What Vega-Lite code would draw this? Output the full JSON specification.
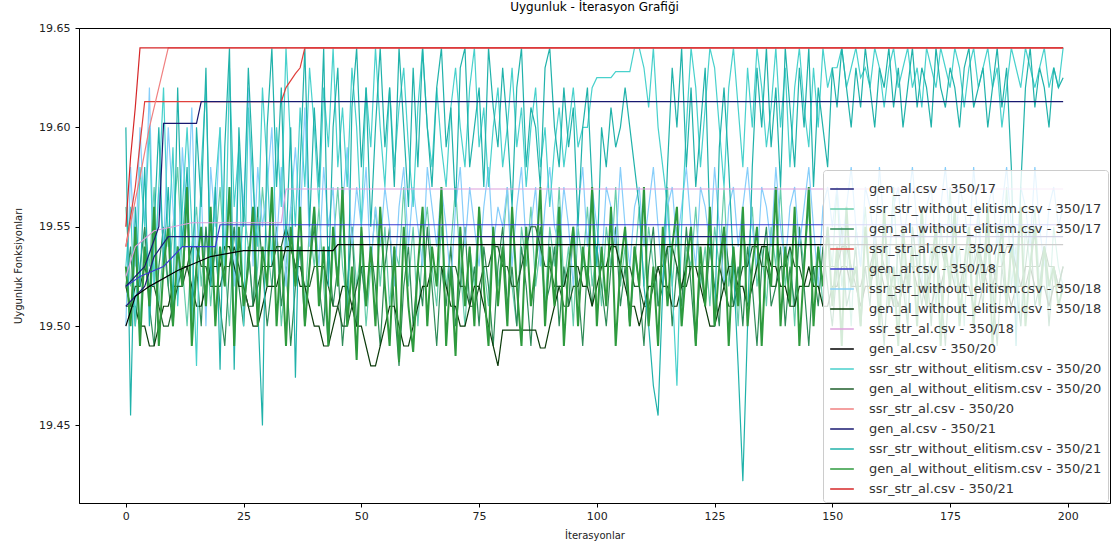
{
"$schema":"https://vega.github.io/schema/vega-lite/v6.json",
"width":1031,"height":475,
"autosize":{"type":"none"},
"padding":{"left":79,"top":28,"right":8,"bottom":44},
"background":"white",
"title":{"text":"Uygunluk - İterasyon Grafiği","font":"DejaVu Sans","fontSize":12,"fontWeight":"normal","color":"#000","offset":8},
"config":{
 "view":{"stroke":"#000","strokeWidth":1},
 "axis":{"labelFont":"DejaVu Sans","labelFontSize":11,"labelColor":"#222","titleFont":"DejaVu Sans","titleFontSize":10,"titleFontWeight":"normal","titleColor":"#222","tickColor":"#000","domainColor":"#000","tickSize":4,"grid":false}
},
"datasets":{
"noisy":[
{"i":0,"b17":19.56,"b18":19.50,"b20":19.53,"b21":19.60,"c17":19.52,"c18":19.52,"c20":19.51,"c21":19.53},
{"i":1,"b17":19.52,"b18":19.58,"b20":19.56,"b21":19.455,"c17":19.54,"c18":19.51,"c20":19.51,"c21":19.50},
{"i":2,"b17":19.54,"b18":19.53,"b20":19.50,"b21":19.56,"c17":19.50,"c18":19.51,"c20":19.52,"c21":19.55},
{"i":3,"b17":19.50,"b18":19.60,"b20":19.58,"b21":19.52,"c17":19.53,"c18":19.50,"c20":19.52,"c21":19.49},
{"i":4,"b17":19.55,"b18":19.55,"b20":19.55,"b21":19.58,"c17":19.55,"c18":19.50,"c20":19.53,"c21":19.54},
{"i":5,"b17":19.53,"b18":19.62,"b20":19.60,"b21":19.50,"c17":19.51,"c18":19.49,"c20":19.52,"c21":19.51},
{"i":6,"b17":19.57,"b18":19.52,"b20":19.52,"b21":19.55,"c17":19.49,"c18":19.49,"c20":19.52,"c21":19.56},
{"i":7,"b17":19.51,"b18":19.57,"b20":19.57,"b21":19.60,"c17":19.53,"c18":19.50,"c20":19.51,"c21":19.49},
{"i":8,"b17":19.54,"b18":19.54,"b20":19.62,"b21":19.53,"c17":19.55,"c18":19.51,"c20":19.50,"c21":19.53},
{"i":9,"b17":19.52,"b18":19.60,"b20":19.54,"b21":19.57,"c17":19.52,"c18":19.51,"c20":19.50,"c21":19.55},
{"i":10,"b17":19.55,"b18":19.56,"b20":19.59,"b21":19.51,"c17":19.50,"c18":19.52,"c20":19.51,"c21":19.50},
{"i":11,"b17":19.58,"b18":19.52,"b20":19.51,"b21":19.62,"c17":19.54,"c18":19.52,"c20":19.52,"c21":19.54},
{"i":12,"b17":19.53,"b18":19.59,"b20":19.56,"b21":19.54,"c17":19.52,"c18":19.53,"c20":19.52,"c21":19.52},
{"i":13,"b17":19.50,"b18":19.55,"b20":19.60,"b21":19.58,"c17":19.56,"c18":19.53,"c20":19.53,"c21":19.57},
{"i":14,"b17":19.54,"b18":19.61,"b20":19.55,"b21":19.50,"c17":19.51,"c18":19.52,"c20":19.54,"c21":19.49},
{"i":15,"b17":19.56,"b18":19.53,"b20":19.48,"b21":19.60,"c17":19.53,"c18":19.51,"c20":19.54,"c21":19.53},
{"i":16,"b17":19.52,"b18":19.57,"b20":19.58,"b21":19.56,"c17":19.50,"c18":19.51,"c20":19.53,"c21":19.55},
{"i":17,"b17":19.55,"b18":19.50,"b20":19.62,"b21":19.63,"c17":19.55,"c18":19.52,"c20":19.53,"c21":19.51},
{"i":18,"b17":19.51,"b18":19.58,"b20":19.53,"b21":19.52,"c17":19.52,"c18":19.53,"c20":19.52,"c21":19.56},
{"i":19,"b17":19.54,"b18":19.55,"b20":19.57,"b21":19.57,"c17":19.54,"c18":19.53,"c20":19.52,"c21":19.50},
{"i":20,"b17":19.57,"b18":19.60,"b20":19.60,"b21":19.478,"c17":19.51,"c18":19.53,"c20":19.52,"c21":19.54},
{"i":21,"b17":19.53,"b18":19.54,"b20":19.52,"b21":19.59,"c17":19.49,"c18":19.54,"c20":19.53,"c21":19.52},
{"i":22,"b17":19.50,"b18":19.57,"b20":19.63,"b21":19.64,"c17":19.53,"c18":19.54,"c20":19.53,"c21":19.57},
{"i":23,"b17":19.55,"b18":19.52,"b20":19.56,"b21":19.478,"c17":19.55,"c18":19.53,"c20":19.54,"c21":19.49},
{"i":24,"b17":19.52,"b18":19.59,"b20":19.59,"b21":19.60,"c17":19.52,"c18":19.52,"c20":19.53,"c21":19.55},
{"i":25,"b17":19.56,"b18":19.56,"b20":19.50,"b21":19.55,"c17":19.50,"c18":19.52,"c20":19.52,"c21":19.51},
{"i":26,"b17":19.54,"b18":19.62,"b20":19.61,"b21":19.63,"c17":19.54,"c18":19.51,"c20":19.51,"c21":19.53},
{"i":27,"b17":19.51,"b18":19.53,"b20":19.57,"b21":19.58,"c17":19.51,"c18":19.50,"c20":19.51,"c21":19.56},
{"i":28,"b17":19.53,"b18":19.58,"b20":19.54,"b21":19.51,"c17":19.56,"c18":19.50,"c20":19.52,"c21":19.50},
{"i":29,"b17":19.57,"b18":19.55,"b20":19.62,"b21":19.45,"c17":19.53,"c18":19.51,"c20":19.53,"c21":19.54},
{"i":30,"b17":19.54,"b18":19.57,"b20":19.58,"b21":19.60,"c17":19.50,"c18":19.52,"c20":19.53,"c21":19.52},
{"i":31,"b17":19.52,"b18":19.60,"b20":19.53,"b21":19.64,"c17":19.52,"c18":19.52,"c20":19.53,"c21":19.57},
{"i":32,"b17":19.55,"b18":19.54,"b20":19.60,"b21":19.57,"c17":19.55,"c18":19.52,"c20":19.54,"c21":19.50},
{"i":33,"b17":19.50,"b18":19.58,"b20":19.56,"b21":19.62,"c17":19.51,"c18":19.53,"c20":19.54,"c21":19.54},
{"i":34,"b17":19.53,"b18":19.52,"b20":19.64,"b21":19.54,"c17":19.53,"c18":19.54,"c20":19.55,"c21":19.49},
{"i":35,"b17":19.56,"b18":19.56,"b20":19.59,"b21":19.60,"c17":19.49,"c18":19.54,"c20":19.54,"c21":19.55},
{"i":36,"b17":19.52,"b18":19.59,"b20":19.55,"b21":19.474,"c17":19.52,"c18":19.53,"c20":19.53,"c21":19.52},
{"i":37,"b17":19.54,"b18":19.55,"b20":19.61,"b21":19.58,"c17":19.54,"c18":19.52,"c20":19.53,"c21":19.56},
{"i":38,"b17":19.51,"b18":19.61,"b20":19.57,"b21":19.64,"c17":19.50,"c18":19.52,"c20":19.52,"c21":19.50},
{"i":39,"b17":19.55,"b18":19.54,"b20":19.63,"b21":19.55,"c17":19.53,"c18":19.51,"c20":19.52,"c21":19.53},
{"i":40,"b17":19.53,"b18":19.56,"b20":19.60,"b21":19.61,"c17":19.55,"c18":19.50,"c20":19.53,"c21":19.56},
{"i":41,"b17":19.56,"b18":19.53,"b20":19.56,"b21":19.57,"c17":19.52,"c18":19.50,"c20":19.53,"c21":19.51},
{"i":42,"b17":19.52,"b18":19.58,"b20":19.62,"b21":19.64,"c17":19.50,"c18":19.49,"c20":19.53,"c21":19.54},
{"i":43,"b17":19.49,"b18":19.55,"b20":19.59,"b21":19.52,"c17":19.54,"c18":19.49,"c20":19.52,"c21":19.49},
{"i":44,"b17":19.54,"b18":19.57,"b20":19.64,"b21":19.60,"c17":19.51,"c18":19.50,"c20":19.51,"c21":19.55},
{"i":45,"b17":19.57,"b18":19.52,"b20":19.58,"b21":19.63,"c17":19.53,"c18":19.51,"c20":19.51,"c21":19.52},
{"i":46,"b17":19.53,"b18":19.56,"b20":19.61,"b21":19.56,"c17":19.49,"c18":19.52,"c20":19.50,"c21":19.57},
{"i":47,"b17":19.51,"b18":19.59,"b20":19.57,"b21":19.50,"c17":19.52,"c18":19.52,"c20":19.50,"c21":19.50},
{"i":48,"b17":19.55,"b18":19.54,"b20":19.63,"b21":19.61,"c17":19.55,"c18":19.51,"c20":19.51,"c21":19.53},
{"i":49,"b17":19.52,"b18":19.57,"b20":19.60,"b21":19.64,"c17":19.50,"c18":19.50,"c20":19.52,"c21":19.483},
{"i":50,"b17":19.54,"b18":19.55,"b20":19.55,"b21":19.58,"c17":19.53,"c18":19.50,"c20":19.53,"c21":19.55},
{"i":51,"b17":19.50,"b18":19.58,"b20":19.62,"b21":19.62,"c17":19.51,"c18":19.49,"c20":19.53,"c21":19.51},
{"i":52,"b17":19.53,"b18":19.53,"b20":19.59,"b21":19.55,"c17":19.54,"c18":19.48,"c20":19.53,"c21":19.54},
{"i":53,"b17":19.56,"b18":19.56,"b20":19.64,"b21":19.60,"c17":19.52,"c18":19.48,"c20":19.53,"c21":19.50},
{"i":54,"b17":19.52,"b18":19.54,"b20":19.60,"b21":19.64,"c17":19.49,"c18":19.49,"c20":19.53,"c21":19.56},
{"i":55,"b17":19.55,"b18":19.57,"b20":19.57,"b21":19.59,"c17":19.53,"c18":19.50,"c20":19.53,"c21":19.52},
{"i":56,"b17":19.51,"b18":19.55,"b20":19.62,"b21":19.62,"c17":19.55,"c18":19.51,"c20":19.53,"c21":19.49},
{"i":57,"b17":19.54,"b18":19.52,"b20":19.58,"b21":19.57,"c17":19.51,"c18":19.51,"c20":19.53,"c21":19.54},
{"i":58,"b17":19.53,"b18":19.56,"b20":19.61,"b21":19.64,"c17":19.48,"c18":19.50,"c20":19.53,"c21":19.482},
{"i":59,"b17":19.57,"b18":19.58,"b20":19.63,"b21":19.60,"c17":19.52,"c18":19.49,"c20":19.53,"c21":19.55},
{"i":60,"b17":19.52,"b18":19.54,"b20":19.59,"b21":19.56,"c17":19.54,"c18":19.49,"c20":19.53,"c21":19.51},
{"i":61,"b17":19.55,"b18":19.57,"b20":19.56,"b21":19.63,"c17":19.50,"c18":19.50,"c20":19.53,"c21":19.487},
{"i":62,"b17":19.50,"b18":19.55,"b20":19.61,"b21":19.58,"c17":19.53,"c18":19.51,"c20":19.53,"c21":19.53},
{"i":63,"b17":19.54,"b18":19.53,"b20":19.64,"b21":19.64,"c17":19.51,"c18":19.52,"c20":19.53,"c21":19.56},
{"i":64,"b17":19.56,"b18":19.58,"b20":19.60,"b21":19.60,"c17":19.55,"c18":19.52,"c20":19.53,"c21":19.50},
{"i":65,"b17":19.53,"b18":19.56,"b20":19.58,"b21":19.57,"c17":19.52,"c18":19.53,"c20":19.53,"c21":19.54},
{"i":66,"b17":19.51,"b18":19.54,"b20":19.62,"b21":19.62,"c17":19.49,"c18":19.53,"c20":19.53,"c21":19.52},
{"i":67,"b17":19.55,"b18":19.57,"b20":19.59,"b21":19.64,"c17":19.53,"c18":19.53,"c20":19.53,"c21":19.57},
{"i":68,"b17":19.52,"b18":19.55,"b20":19.57,"b21":19.59,"c17":19.51,"c18":19.52,"c20":19.53,"c21":19.49},
{"i":69,"b17":19.54,"b18":19.52,"b20":19.61,"b21":19.61,"c17":19.54,"c18":19.51,"c20":19.53,"c21":19.53},
{"i":70,"b17":19.57,"b18":19.56,"b20":19.63,"b21":19.56,"c17":19.50,"c18":19.51,"c20":19.53,"c21":19.485},
{"i":71,"b17":19.53,"b18":19.58,"b20":19.60,"b21":19.63,"c17":19.52,"c18":19.50,"c20":19.52,"c21":19.55},
{"i":72,"b17":19.50,"b18":19.54,"b20":19.58,"b21":19.64,"c17":19.55,"c18":19.50,"c20":19.52,"c21":19.51},
{"i":73,"b17":19.54,"b18":19.57,"b20":19.62,"b21":19.58,"c17":19.51,"c18":19.51,"c20":19.51,"c21":19.54},
{"i":74,"b17":19.52,"b18":19.55,"b20":19.64,"b21":19.60,"c17":19.53,"c18":19.52,"c20":19.51,"c21":19.50},
{"i":75,"b17":19.56,"b18":19.53,"b20":19.59,"b21":19.62,"c17":19.50,"c18":19.52,"c20":19.52,"c21":19.56},
{"i":76,"b17":19.53,"b18":19.56,"b20":19.61,"b21":19.57,"c17":19.54,"c18":19.51,"c20":19.53,"c21":19.52},
{"i":77,"b17":19.51,"b18":19.58,"b20":19.57,"b21":19.64,"c17":19.52,"c18":19.50,"c20":19.53,"c21":19.49},
{"i":78,"b17":19.55,"b18":19.54,"b20":19.60,"b21":19.61,"c17":19.49,"c18":19.49,"c20":19.54,"c21":19.55},
{"i":79,"b17":19.52,"b18":19.56,"b20":19.62,"b21":19.59,"c17":19.53,"c18":19.48,"c20":19.54,"c21":19.51},
{"i":80,"b17":19.54,"b18":19.55,"b20":19.58,"b21":19.63,"c17":19.55,"c18":19.498,"c20":19.53,"c21":19.54},
{"i":81,"b17":19.57,"b18":19.57,"b20":19.60,"b21":19.60,"c17":19.51,"c18":19.498,"c20":19.53,"c21":19.50},
{"i":82,"b17":19.52,"b18":19.53,"b20":19.63,"b21":19.56,"c17":19.53,"c18":19.498,"c20":19.52,"c21":19.56},
{"i":83,"b17":19.50,"b18":19.56,"b20":19.59,"b21":19.62,"c17":19.50,"c18":19.498,"c20":19.52,"c21":19.52},
{"i":84,"b17":19.55,"b18":19.58,"b20":19.61,"b21":19.64,"c17":19.54,"c18":19.498,"c20":19.53,"c21":19.49},
{"i":85,"b17":19.53,"b18":19.54,"b20":19.57,"b21":19.58,"c17":19.52,"c18":19.498,"c20":19.54,"c21":19.55},
{"i":86,"b17":19.56,"b18":19.55,"b20":19.60,"b21":19.61,"c17":19.49,"c18":19.498,"c20":19.55,"c21":19.51},
{"i":87,"b17":19.52,"b18":19.57,"b20":19.62,"b21":19.60,"c17":19.53,"c18":19.498,"c20":19.55,"c21":19.53},
{"i":88,"b17":19.54,"b18":19.53,"b20":19.58,"b21":19.57,"c17":19.55,"c18":19.489,"c20":19.54,"c21":19.57},
{"i":89,"b17":19.51,"b18":19.56,"b20":19.60,"b21":19.63,"c17":19.51,"c18":19.489,"c20":19.53,"c21":19.50},
{"i":90,"b17":19.55,"b18":19.58,"b20":19.56,"b21":19.64,"c17":19.52,"c18":19.50,"c20":19.53,"c21":19.54},
{"i":91,"b17":19.53,"b18":19.55,"b20":19.59,"b21":19.60,"c17":19.54,"c18":19.51,"c20":19.52,"c21":19.51},
{"i":92,"b17":19.57,"b18":19.54,"b20":19.61,"b21":19.58,"c17":19.50,"c18":19.52,"c20":19.52,"c21":19.56},
{"i":93,"b17":19.52,"b18":19.57,"b20":19.58,"b21":19.62,"c17":19.53,"c18":19.52,"c20":19.51,"c21":19.49},
{"i":94,"b17":19.54,"b18":19.55,"b20":19.60,"b21":19.59,"c17":19.51,"c18":19.53,"c20":19.51,"c21":19.53},
{"i":95,"b17":19.50,"b18":19.52,"b20":19.62,"b21":19.61,"c17":19.55,"c18":19.53,"c20":19.52,"c21":19.55},
{"i":96,"b17":19.55,"b18":19.56,"b20":19.59,"b21":19.55,"c17":19.52,"c18":19.53,"c20":19.52,"c21":19.50},
{"i":97,"b17":19.53,"b18":19.58,"b20":19.60,"b21":19.60,"c17":19.49,"c18":19.52,"c20":19.53,"c21":19.54},
{"i":98,"b17":19.56,"b18":19.54,"b20":19.60,"b21":19.62,"c17":19.53,"c18":19.52,"c20":19.53,"c21":19.52},
{"i":99,"b17":19.52,"b18":19.57,"b20":19.62,"b21":19.57,"c17":19.51,"c18":19.51,"c20":19.53,"c21":19.57},
{"i":100,"b17":19.54,"b18":19.55,"b20":19.625,"b21":19.53,"c17":19.54,"c18":19.52,"c20":19.53,"c21":19.50},
{"i":101,"b17":19.51,"b18":19.53,"b20":19.625,"b21":19.60,"c17":19.52,"c18":19.53,"c20":19.53,"c21":19.54},
{"i":102,"b17":19.55,"b18":19.57,"b20":19.625,"b21":19.58,"c17":19.50,"c18":19.53,"c20":19.53,"c21":19.51},
{"i":103,"b17":19.53,"b18":19.56,"b20":19.625,"b21":19.61,"c17":19.53,"c18":19.54,"c20":19.53,"c21":19.56},
{"i":104,"b17":19.57,"b18":19.54,"b20":19.628,"b21":19.59,"c17":19.55,"c18":19.54,"c20":19.53,"c21":19.49},
{"i":105,"b17":19.52,"b18":19.58,"b20":19.628,"b21":19.60,"c17":19.51,"c18":19.53,"c20":19.53,"c21":19.53},
{"i":106,"b17":19.54,"b18":19.55,"b20":19.628,"b21":19.62,"c17":19.53,"c18":19.52,"c20":19.53,"c21":19.55},
{"i":107,"b17":19.50,"b18":19.53,"b20":19.628,"b21":19.60,"c17":19.50,"c18":19.51,"c20":19.53,"c21":19.50},
{"i":108,"b17":19.53,"b18":19.56,"b20":19.64,"b21":19.58,"c17":19.54,"c18":19.51,"c20":19.52,"c21":19.54},
{"i":109,"b17":19.56,"b18":19.57,"b20":19.64,"b21":19.56,"c17":19.52,"c18":19.50,"c20":19.52,"c21":19.52},
{"i":110,"b17":19.52,"b18":19.54,"b20":19.63,"b21":19.52,"c17":19.49,"c18":19.51,"c20":19.51,"c21":19.57},
{"i":111,"b17":19.55,"b18":19.56,"b20":19.61,"b21":19.50,"c17":19.53,"c18":19.52,"c20":19.51,"c21":19.50},
{"i":112,"b17":19.53,"b18":19.58,"b20":19.64,"b21":19.47,"c17":19.55,"c18":19.52,"c20":19.52,"c21":19.53},
{"i":113,"b17":19.51,"b18":19.55,"b20":19.60,"b21":19.455,"c17":19.51,"c18":19.53,"c20":19.53,"c21":19.49},
{"i":114,"b17":19.54,"b18":19.52,"b20":19.58,"b21":19.52,"c17":19.52,"c18":19.52,"c20":19.53,"c21":19.55},
{"i":115,"b17":19.57,"b18":19.56,"b20":19.56,"b21":19.58,"c17":19.54,"c18":19.52,"c20":19.54,"c21":19.51},
{"i":116,"b17":19.52,"b18":19.57,"b20":19.52,"b21":19.63,"c17":19.50,"c18":19.51,"c20":19.54,"c21":19.54},
{"i":117,"b17":19.55,"b18":19.54,"b20":19.47,"b21":19.60,"c17":19.53,"c18":19.51,"c20":19.53,"c21":19.56},
{"i":118,"b17":19.50,"b18":19.56,"b20":19.55,"b21":19.64,"c17":19.51,"c18":19.52,"c20":19.52,"c21":19.50},
{"i":119,"b17":19.54,"b18":19.58,"b20":19.60,"b21":19.58,"c17":19.55,"c18":19.53,"c20":19.52,"c21":19.53},
{"i":120,"b17":19.53,"b18":19.55,"b20":19.64,"b21":19.62,"c17":19.52,"c18":19.53,"c20":19.53,"c21":19.55},
{"i":121,"b17":19.56,"b18":19.53,"b20":19.62,"b21":19.57,"c17":19.49,"c18":19.53,"c20":19.53,"c21":19.49},
{"i":122,"b17":19.52,"b18":19.57,"b20":19.58,"b21":19.60,"c17":19.53,"c18":19.52,"c20":19.53,"c21":19.54},
{"i":123,"b17":19.54,"b18":19.56,"b20":19.61,"b21":19.63,"c17":19.51,"c18":19.51,"c20":19.53,"c21":19.51},
{"i":124,"b17":19.51,"b18":19.54,"b20":19.64,"b21":19.55,"c17":19.54,"c18":19.50,"c20":19.53,"c21":19.56},
{"i":125,"b17":19.55,"b18":19.58,"b20":19.63,"b21":19.50,"c17":19.52,"c18":19.50,"c20":19.53,"c21":19.50},
{"i":126,"b17":19.53,"b18":19.55,"b20":19.60,"b21":19.59,"c17":19.50,"c18":19.51,"c20":19.53,"c21":19.53},
{"i":127,"b17":19.57,"b18":19.52,"b20":19.57,"b21":19.62,"c17":19.55,"c18":19.52,"c20":19.52,"c21":19.55},
{"i":128,"b17":19.52,"b18":19.56,"b20":19.62,"b21":19.58,"c17":19.53,"c18":19.53,"c20":19.51,"c21":19.49},
{"i":129,"b17":19.54,"b18":19.57,"b20":19.64,"b21":19.53,"c17":19.51,"c18":19.53,"c20":19.51,"c21":19.54},
{"i":130,"b17":19.50,"b18":19.54,"b20":19.61,"b21":19.48,"c17":19.53,"c18":19.52,"c20":19.52,"c21":19.51},
{"i":131,"b17":19.55,"b18":19.56,"b20":19.58,"b21":19.422,"c17":19.50,"c18":19.52,"c20":19.53,"c21":19.56},
{"i":132,"b17":19.53,"b18":19.58,"b20":19.63,"b21":19.50,"c17":19.54,"c18":19.51,"c20":19.53,"c21":19.50},
{"i":133,"b17":19.56,"b18":19.55,"b20":19.60,"b21":19.58,"c17":19.52,"c18":19.52,"c20":19.54,"c21":19.53},
{"i":134,"b17":19.52,"b18":19.53,"b20":19.64,"b21":19.63,"c17":19.49,"c18":19.53,"c20":19.54,"c21":19.55},
{"i":135,"b17":19.54,"b18":19.57,"b20":19.62,"b21":19.60,"c17":19.53,"c18":19.54,"c20":19.53,"c21":19.49},
{"i":136,"b17":19.51,"b18":19.56,"b20":19.59,"b21":19.64,"c17":19.55,"c18":19.54,"c20":19.53,"c21":19.54},
{"i":137,"b17":19.55,"b18":19.54,"b20":19.61,"b21":19.59,"c17":19.51,"c18":19.53,"c20":19.52,"c21":19.52},
{"i":138,"b17":19.53,"b18":19.58,"b20":19.64,"b21":19.62,"c17":19.52,"c18":19.53,"c20":19.52,"c21":19.57},
{"i":139,"b17":19.57,"b18":19.55,"b20":19.60,"b21":19.57,"c17":19.54,"c18":19.52,"c20":19.53,"c21":19.50},
{"i":140,"b17":19.52,"b18":19.53,"b20":19.63,"b21":19.64,"c17":19.50,"c18":19.52,"c20":19.53,"c21":19.54},
{"i":141,"b17":19.54,"b18":19.56,"b20":19.58,"b21":19.61,"c17":19.53,"c18":19.51,"c20":19.54,"c21":19.51},
{"i":142,"b17":19.50,"b18":19.57,"b20":19.62,"b21":19.58,"c17":19.51,"c18":19.51,"c20":19.53,"c21":19.56},
{"i":143,"b17":19.55,"b18":19.54,"b20":19.64,"b21":19.63,"c17":19.55,"c18":19.52,"c20":19.53,"c21":19.49},
{"i":144,"b17":19.53,"b18":19.56,"b20":19.61,"b21":19.60,"c17":19.52,"c18":19.52,"c20":19.52,"c21":19.53},
{"i":145,"b17":19.56,"b18":19.58,"b20":19.59,"b21":19.64,"c17":19.49,"c18":19.53,"c20":19.52,"c21":19.57},
{"i":146,"b17":19.52,"b18":19.55,"b20":19.63,"b21":19.57,"c17":19.53,"c18":19.52,"c20":19.53,"c21":19.50},
{"i":147,"b17":19.54,"b18":19.52,"b20":19.60,"b21":19.62,"c17":19.51,"c18":19.52,"c20":19.53,"c21":19.54},
{"i":148,"b17":19.51,"b18":19.56,"b20":19.64,"b21":19.60,"c17":19.54,"c18":19.51,"c20":19.53,"c21":19.52},
{"i":149,"b17":19.55,"b18":19.57,"b20":19.62,"b21":19.58,"c17":19.52,"c18":19.51,"c20":19.53,"c21":19.55},
{"i":150,"b17":19.53,"b18":19.55,"b20":19.63,"b21":19.63,"c17":19.50,"c18":19.52,"c20":19.53,"c21":19.51},
{"i":151,"b17":19.57,"b18":19.57,"b20":19.63,"b21":19.61,"c17":19.53,"c18":19.52,"c20":19.53,"c21":19.54},
{"i":152,"b17":19.52,"b18":19.54,"b20":19.64,"b21":19.64,"c17":19.55,"c18":19.53,"c20":19.54,"c21":19.49},
{"i":153,"b17":19.54,"b18":19.56,"b20":19.62,"b21":19.62,"c17":19.51,"c18":19.53,"c20":19.54,"c21":19.56},
{"i":154,"b17":19.50,"b18":19.58,"b20":19.63,"b21":19.60,"c17":19.52,"c18":19.52,"c20":19.53,"c21":19.52},
{"i":155,"b17":19.55,"b18":19.55,"b20":19.64,"b21":19.63,"c17":19.54,"c18":19.52,"c20":19.52,"c21":19.53},
{"i":156,"b17":19.53,"b18":19.53,"b20":19.625,"b21":19.61,"c17":19.50,"c18":19.51,"c20":19.52,"c21":19.50},
{"i":157,"b17":19.56,"b18":19.57,"b20":19.63,"b21":19.64,"c17":19.53,"c18":19.52,"c20":19.53,"c21":19.55},
{"i":158,"b17":19.52,"b18":19.56,"b20":19.62,"b21":19.62,"c17":19.51,"c18":19.52,"c20":19.53,"c21":19.52},
{"i":159,"b17":19.54,"b18":19.54,"b20":19.64,"b21":19.60,"c17":19.55,"c18":19.53,"c20":19.54,"c21":19.54},
{"i":160,"b17":19.51,"b18":19.58,"b20":19.63,"b21":19.63,"c17":19.52,"c18":19.53,"c20":19.54,"c21":19.50},
{"i":161,"b17":19.55,"b18":19.55,"b20":19.61,"b21":19.62,"c17":19.49,"c18":19.52,"c20":19.53,"c21":19.56},
{"i":162,"b17":19.53,"b18":19.53,"b20":19.63,"b21":19.64,"c17":19.53,"c18":19.52,"c20":19.52,"c21":19.51},
{"i":163,"b17":19.57,"b18":19.56,"b20":19.64,"b21":19.61,"c17":19.51,"c18":19.51,"c20":19.52,"c21":19.53},
{"i":164,"b17":19.52,"b18":19.57,"b20":19.62,"b21":19.63,"c17":19.54,"c18":19.51,"c20":19.51,"c21":19.49},
{"i":165,"b17":19.54,"b18":19.54,"b20":19.63,"b21":19.60,"c17":19.52,"c18":19.52,"c20":19.52,"c21":19.55},
{"i":166,"b17":19.50,"b18":19.56,"b20":19.64,"b21":19.62,"c17":19.50,"c18":19.53,"c20":19.53,"c21":19.52},
{"i":167,"b17":19.55,"b18":19.58,"b20":19.62,"b21":19.64,"c17":19.55,"c18":19.53,"c20":19.53,"c21":19.54},
{"i":168,"b17":19.53,"b18":19.55,"b20":19.63,"b21":19.61,"c17":19.53,"c18":19.52,"c20":19.53,"c21":19.50},
{"i":169,"b17":19.56,"b18":19.52,"b20":19.61,"b21":19.63,"c17":19.51,"c18":19.52,"c20":19.52,"c21":19.56},
{"i":170,"b17":19.52,"b18":19.56,"b20":19.64,"b21":19.62,"c17":19.53,"c18":19.51,"c20":19.52,"c21":19.51},
{"i":171,"b17":19.54,"b18":19.57,"b20":19.63,"b21":19.60,"c17":19.50,"c18":19.51,"c20":19.53,"c21":19.53},
{"i":172,"b17":19.51,"b18":19.54,"b20":19.62,"b21":19.64,"c17":19.54,"c18":19.52,"c20":19.54,"c21":19.55},
{"i":173,"b17":19.55,"b18":19.56,"b20":19.64,"b21":19.62,"c17":19.52,"c18":19.52,"c20":19.54,"c21":19.49},
{"i":174,"b17":19.53,"b18":19.58,"b20":19.63,"b21":19.61,"c17":19.49,"c18":19.53,"c20":19.53,"c21":19.54},
{"i":175,"b17":19.57,"b18":19.55,"b20":19.62,"b21":19.63,"c17":19.53,"c18":19.53,"c20":19.53,"c21":19.52},
{"i":176,"b17":19.52,"b18":19.53,"b20":19.64,"b21":19.62,"c17":19.55,"c18":19.53,"c20":19.52,"c21":19.56},
{"i":177,"b17":19.54,"b18":19.57,"b20":19.63,"b21":19.60,"c17":19.51,"c18":19.52,"c20":19.52,"c21":19.50},
{"i":178,"b17":19.50,"b18":19.56,"b20":19.61,"b21":19.63,"c17":19.52,"c18":19.52,"c20":19.53,"c21":19.53},
{"i":179,"b17":19.55,"b18":19.54,"b20":19.63,"b21":19.64,"c17":19.54,"c18":19.52,"c20":19.53,"c21":19.55},
{"i":180,"b17":19.53,"b18":19.58,"b20":19.64,"b21":19.61,"c17":19.50,"c18":19.51,"c20":19.53,"c21":19.50},
{"i":181,"b17":19.56,"b18":19.55,"b20":19.62,"b21":19.62,"c17":19.53,"c18":19.51,"c20":19.54,"c21":19.54},
{"i":182,"b17":19.52,"b18":19.52,"b20":19.63,"b21":19.63,"c17":19.51,"c18":19.52,"c20":19.53,"c21":19.52},
{"i":183,"b17":19.54,"b18":19.56,"b20":19.64,"b21":19.60,"c17":19.55,"c18":19.53,"c20":19.52,"c21":19.56},
{"i":184,"b17":19.51,"b18":19.57,"b20":19.62,"b21":19.62,"c17":19.52,"c18":19.53,"c20":19.52,"c21":19.49},
{"i":185,"b17":19.55,"b18":19.54,"b20":19.63,"b21":19.64,"c17":19.49,"c18":19.52,"c20":19.53,"c21":19.53},
{"i":186,"b17":19.53,"b18":19.56,"b20":19.60,"b21":19.61,"c17":19.53,"c18":19.52,"c20":19.53,"c21":19.55},
{"i":187,"b17":19.57,"b18":19.58,"b20":19.62,"b21":19.63,"c17":19.51,"c18":19.52,"c20":19.54,"c21":19.51},
{"i":188,"b17":19.52,"b18":19.55,"b20":19.64,"b21":19.58,"c17":19.54,"c18":19.51,"c20":19.54,"c21":19.54},
{"i":189,"b17":19.54,"b18":19.53,"b20":19.63,"b21":19.49,"c17":19.52,"c18":19.52,"c20":19.53,"c21":19.52},
{"i":190,"b17":19.50,"b18":19.57,"b20":19.62,"b21":19.57,"c17":19.50,"c18":19.52,"c20":19.52,"c21":19.56},
{"i":191,"b17":19.55,"b18":19.56,"b20":19.64,"b21":19.62,"c17":19.53,"c18":19.53,"c20":19.52,"c21":19.50},
{"i":192,"b17":19.53,"b18":19.54,"b20":19.63,"b21":19.64,"c17":19.55,"c18":19.53,"c20":19.53,"c21":19.53},
{"i":193,"b17":19.56,"b18":19.58,"b20":19.62,"b21":19.61,"c17":19.51,"c18":19.52,"c20":19.53,"c21":19.55},
{"i":194,"b17":19.52,"b18":19.55,"b20":19.63,"b21":19.63,"c17":19.52,"c18":19.52,"c20":19.53,"c21":19.51},
{"i":195,"b17":19.54,"b18":19.53,"b20":19.64,"b21":19.62,"c17":19.54,"c18":19.52,"c20":19.54,"c21":19.54},
{"i":196,"b17":19.51,"b18":19.56,"b20":19.62,"b21":19.60,"c17":19.50,"c18":19.51,"c20":19.53,"c21":19.52},
{"i":197,"b17":19.55,"b18":19.57,"b20":19.63,"b21":19.63,"c17":19.53,"c18":19.52,"c20":19.53,"c21":19.53},
{"i":198,"b17":19.53,"b18":19.55,"b20":19.62,"b21":19.62,"c17":19.52,"c18":19.52,"c20":19.52,"c21":19.51},
{"i":199,"b17":19.52,"b18":19.56,"b20":19.64,"b21":19.625,"c17":19.53,"c18":19.52,"c20":19.53,"c21":19.52}
],
"steps":[
{"s":"a17","i":0,"v":19.51},{"s":"a17","i":4,"v":19.52},{"s":"a17","i":6,"v":19.535},{"s":"a17","i":9,"v":19.545},{"s":"a17","i":199,"v":19.545},
{"s":"d17","i":0,"v":19.54},{"s":"d17","i":2,"v":19.57},{"s":"d17","i":4,"v":19.613},{"s":"d17","i":33,"v":19.613},{"s":"d17","i":34,"v":19.62},{"s":"d17","i":36,"v":19.627},{"s":"d17","i":37,"v":19.63},{"s":"d17","i":38,"v":19.64},{"s":"d17","i":199,"v":19.64},
{"s":"a18","i":0,"v":19.52},{"s":"a18","i":3,"v":19.525},{"s":"a18","i":8,"v":19.53},{"s":"a18","i":12,"v":19.54},{"s":"a18","i":19,"v":19.54},{"s":"a18","i":20,"v":19.551},{"s":"a18","i":199,"v":19.551},
{"s":"d18","i":0,"v":19.525},{"s":"d18","i":2,"v":19.54},{"s":"d18","i":6,"v":19.548},{"s":"d18","i":14,"v":19.552},{"s":"d18","i":33,"v":19.552},{"s":"d18","i":34,"v":19.569},{"s":"d18","i":199,"v":19.569},
{"s":"a20","i":0,"v":19.50},{"s":"a20","i":2,"v":19.515},{"s":"a20","i":5,"v":19.52},{"s":"a20","i":11,"v":19.528},{"s":"a20","i":18,"v":19.535},{"s":"a20","i":25,"v":19.538},{"s":"a20","i":44,"v":19.538},{"s":"a20","i":45,"v":19.541},{"s":"a20","i":199,"v":19.541},
{"s":"d20","i":0,"v":19.54},{"s":"d20","i":3,"v":19.575},{"s":"d20","i":5,"v":19.60},{"s":"d20","i":7,"v":19.62},{"s":"d20","i":9,"v":19.64},{"s":"d20","i":199,"v":19.64},
{"s":"a21","i":0,"v":19.52},{"s":"a21","i":4,"v":19.53},{"s":"a21","i":7,"v":19.55},{"s":"a21","i":8,"v":19.602},{"s":"a21","i":15,"v":19.602},{"s":"a21","i":16,"v":19.613},{"s":"a21","i":199,"v":19.613},
{"s":"d21","i":0,"v":19.55},{"s":"d21","i":1,"v":19.585},{"s":"d21","i":2,"v":19.61},{"s":"d21","i":3,"v":19.64},{"s":"d21","i":199,"v":19.64}
]
},
"encoding":{
 "x":{"field":"i","type":"quantitative","scale":{"domain":[-9.95,208.95],"nice":false,"zero":false},"axis":{"values":[0,25,50,75,100,125,150,175,200],"title":"İterasyonlar","labelPadding":3,"titlePadding":9}},
 "y":{"field":"v","type":"quantitative","scale":{"domain":[19.411,19.65],"nice":false,"zero":false},"axis":{"values":[19.45,19.5,19.55,19.6,19.65],"format":".2f","title":"Uygunluk Fonksiyonları","labelPadding":5,"titlePadding":15}},
 "color":{"field":"s","type":"nominal",
  "scale":{"domain":["a17","b17","c17","d17","a18","b18","c18","d18","a20","b20","c20","d20","a21","b21","c21","d21"],
   "range":["#1f1f7a","#66cdaa","#2e8b57","#e0403c","#3b3bd0","#87cefa","#0b3b0b","#dda0dd","#000000","#48d1cc","#1e5e2a","#f08080","#191970","#20b2aa","#2e9a3e","#d62728"]},
  "legend":{"orient":"none","legendX":744,"legendY":142,"title":null,"symbolType":"stroke","symbolSize":560,"symbolStrokeWidth":1.5,"labelFont":"DejaVu Sans","labelFontSize":13,"labelColor":"#333","labelLimit":400,"labelOffset":14,"fillColor":"rgba(255,255,255,0.8)","strokeColor":"#cccccc","cornerRadius":3,"padding":6,"rowPadding":0,
   "labelExpr":"({'a17':'gen_al.csv - 350/17','b17':'ssr_str_without_elitism.csv - 350/17','c17':'gen_al_without_elitism.csv - 350/17','d17':'ssr_str_al.csv - 350/17','a18':'gen_al.csv - 350/18','b18':'ssr_str_without_elitism.csv - 350/18','c18':'gen_al_without_elitism.csv - 350/18','d18':'ssr_str_al.csv - 350/18','a20':'gen_al.csv - 350/20','b20':'ssr_str_without_elitism.csv - 350/20','c20':'gen_al_without_elitism.csv - 350/20','d20':'ssr_str_al.csv - 350/20','a21':'gen_al.csv - 350/21','b21':'ssr_str_without_elitism.csv - 350/21','c21':'gen_al_without_elitism.csv - 350/21','d21':'ssr_str_al.csv - 350/21'})[datum.value]"}},
 "strokeWidth":{"condition":{"test":"datum.s === 'c21'","value":2},"value":1.2}
},
"layer":[
 {"data":{"name":"noisy"},"transform":[{"fold":["b17","c17","b18","c18","b20","c20","b21","c21"],"as":["s","v"]}],"mark":{"type":"line","clip":true}},
 {"data":{"name":"steps"},"mark":{"type":"line","clip":true}}
]
}
